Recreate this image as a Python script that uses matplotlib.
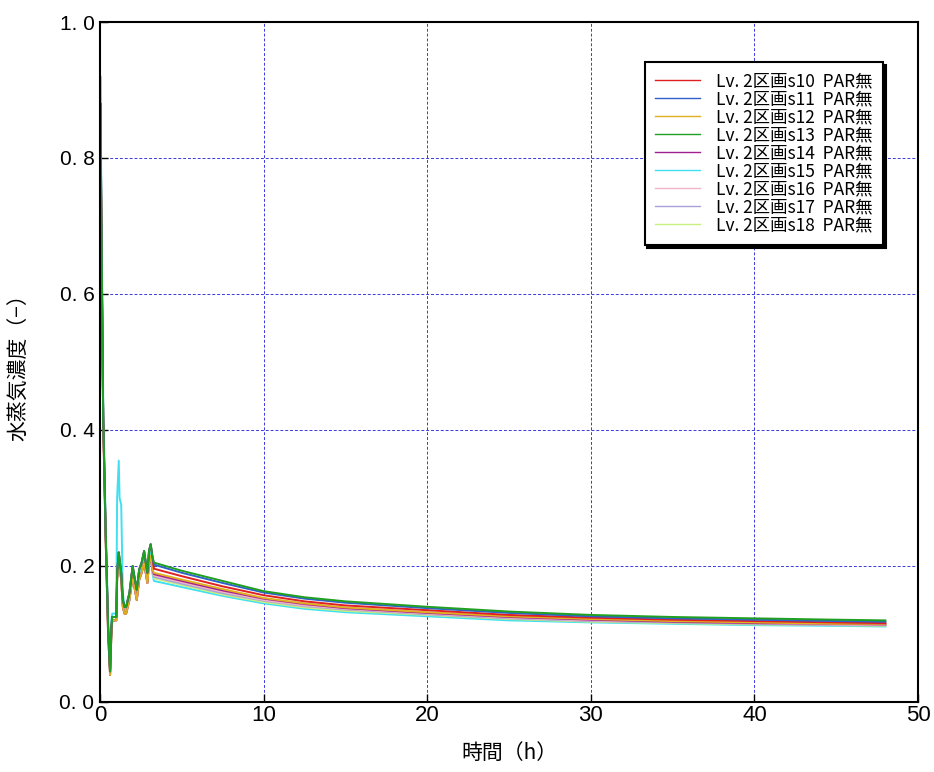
import matplotlib
matplotlib.use("Agg")
import matplotlib.pyplot as plt
from matplotlib import font_manager
import numpy as np

plt.rcParams['font.family'] = ['Noto Sans CJK JP', 'DejaVu Sans']

# ---- data ----
t_early = [0.0, 0.03, 0.1, 0.2, 0.35, 0.5, 0.62, 0.7, 0.75, 1.0, 1.05, 1.15, 1.2, 1.3, 1.4,
           1.5, 1.6, 1.8, 2.0, 2.1, 2.25, 2.4, 2.55, 2.7, 2.8, 2.9, 3.0, 3.1, 3.2]
t_late = [3.3, 5, 7.5, 10, 12.5, 15, 20, 25, 30, 35, 40, 45, 48]

early_high = [0.55, 0.88, 0.68, 0.42, 0.25, 0.11, 0.045, 0.11, 0.125, 0.125, 0.19, 0.22, 0.21, 0.19, 0.15,
              0.14, 0.14, 0.16, 0.20, 0.185, 0.165, 0.195, 0.205, 0.222, 0.205, 0.19, 0.222, 0.232, 0.215]
early_low = [0.52, 0.86, 0.66, 0.41, 0.24, 0.10, 0.040, 0.10, 0.120, 0.120, 0.18, 0.21, 0.20, 0.18, 0.14,
             0.13, 0.13, 0.15, 0.185, 0.17, 0.150, 0.180, 0.190, 0.205, 0.190, 0.175, 0.205, 0.215, 0.195]
early_cyan = [0.60, 0.92, 0.70, 0.44, 0.26, 0.12, 0.050, 0.12, 0.130, 0.130, 0.30, 0.355, 0.30, 0.29, 0.16,
              0.14, 0.135, 0.15, 0.19, 0.175, 0.155, 0.185, 0.195, 0.21, 0.195, 0.18, 0.21, 0.22, 0.19]

late_s10 = [0.196, 0.185, 0.170, 0.157, 0.148, 0.142, 0.135, 0.128, 0.124, 0.121, 0.119, 0.117, 0.116]
late_s11 = [0.202, 0.190, 0.175, 0.161, 0.152, 0.146, 0.138, 0.131, 0.126, 0.123, 0.121, 0.119, 0.118]
late_s12 = [0.190, 0.180, 0.166, 0.153, 0.145, 0.139, 0.132, 0.126, 0.122, 0.119, 0.117, 0.115, 0.115]
late_s13 = [0.205, 0.193, 0.178, 0.163, 0.154, 0.148, 0.140, 0.133, 0.128, 0.125, 0.123, 0.121, 0.120]
late_s14 = [0.188, 0.178, 0.164, 0.152, 0.144, 0.138, 0.131, 0.125, 0.121, 0.118, 0.116, 0.115, 0.114]
late_s15 = [0.178, 0.169, 0.156, 0.145, 0.137, 0.132, 0.126, 0.120, 0.117, 0.115, 0.113, 0.112, 0.111]
late_s16 = [0.186, 0.176, 0.162, 0.150, 0.142, 0.137, 0.130, 0.124, 0.120, 0.118, 0.116, 0.114, 0.113]
late_s17 = [0.184, 0.174, 0.160, 0.149, 0.141, 0.136, 0.129, 0.123, 0.119, 0.117, 0.115, 0.113, 0.113]
late_s18 = [0.182, 0.172, 0.158, 0.147, 0.139, 0.134, 0.128, 0.122, 0.118, 0.116, 0.114, 0.113, 0.112]

labels = ["Lv. 2区画s10  PAR無", "Lv. 2区画s11  PAR無", "Lv. 2区画s12  PAR無",
          "Lv. 2区画s13  PAR無", "Lv. 2区画s14  PAR無", "Lv. 2区画s15  PAR無",
          "Lv. 2区画s16  PAR無", "Lv. 2区画s17  PAR無", "Lv. 2区画s18  PAR無"]
colors = ["#e02020", "#3060c8", "#e0b020", "#20a020", "#a02090",
          "#40e0f0", "#f4b4c8", "#a8a0d8", "#c8f080"]
x_ticks = [0, 10, 20, 30, 40, 50]
y_ticks = [0, 0.2, 0.4, 0.6, 0.8, 1.0]
y_tick_labels = ["0. 0", "0. 2", "0. 4", "0. 6", "0. 8", "1. 0"]

series = [
    (early_high, late_s10), (early_high, late_s11), (early_low, late_s12),
    (early_high, late_s13), (early_low, late_s14), (early_cyan, late_s15),
    (early_low, late_s16), (early_low, late_s17), (early_low, late_s18),
]
draw_order = [5, 8, 7, 6, 4, 2, 0, 1, 3]

installed = {f.name for f in font_manager.fontManager.ttflist}
narrow = 'Liberation Sans Narrow' if 'Liberation Sans Narrow' in installed else 'Liberation Sans'

fig = plt.figure(figsize=(9.34, 7.72), dpi=100)
ax = fig.add_axes([0.107, 0.0907, 0.876, 0.8808])

t_all = t_early + t_late
handles = {}
for i in draw_order:
    e, l = series[i]
    h, = ax.plot(t_all, list(e) + list(l), color=colors[i], lw=1.4, label=labels[i])
    handles[i] = h

ax.set_xlim(0, 50)
ax.set_ylim(0, 1.0)
ax.set_xticks(x_ticks)
ax.set_xticklabels([str(v) for v in x_ticks], family=[narrow, 'DejaVu Sans'], fontsize=16)
ax.set_yticks(y_ticks)
ax.set_yticklabels(y_tick_labels, family=['Liberation Sans', 'DejaVu Sans'], fontsize=15)
ax.tick_params(direction='in', length=6, width=1, colors='black', pad=4)
ax.tick_params(axis='x', pad=2)
ax.grid(True, color='#3a3ae0', linestyle=(0, (3, 2)), linewidth=0.7)
for s in ax.spines.values():
    s.set_linewidth(1.5)
    s.set_color('black')

ax.set_xlabel("時間（h）", fontsize=15, labelpad=12)
ax.set_ylabel("水蒸気濃度（−）", fontsize=15, labelpad=22)

leg = ax.legend([handles[i] for i in range(9)], labels, loc='upper right',
                bbox_to_anchor=(0.957, 0.941), borderaxespad=0, fontsize=12.5,
                frameon=True, fancybox=False, edgecolor='black', handlelength=2.6,
                labelspacing=0.0, borderpad=0.6, handletextpad=0.9,
                shadow={'color': 'black', 'alpha': 1.0})
leg.get_frame().set_linewidth(1.5)
for line in leg.get_lines():
    line.set_linewidth(1.0)

fig.savefig("out.png", dpi=100)
